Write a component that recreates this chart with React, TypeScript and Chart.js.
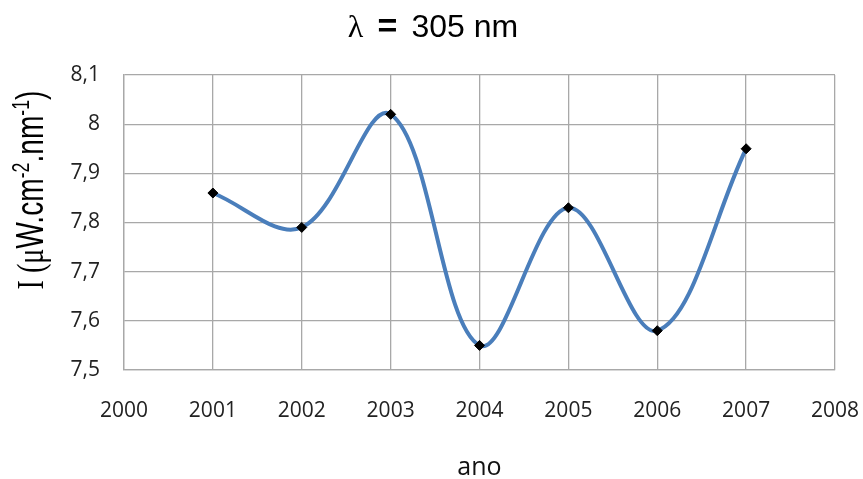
import React, { useEffect, useRef } from "react";
import { Chart, registerables } from "chart.js";

Chart.register(...registerables);

// Annual mean irradiance at 305 nm
const years = [2001, 2002, 2003, 2004, 2005, 2006, 2007];
const intensity = [7.86, 7.79, 8.02, 7.55, 7.83, 7.58, 7.95];

const xMin = 2000;
const xMax = 2008;
const yMin = 7.5;
const yMax = 8.1;
const yStep = 0.1;

const SANS = "'Liberation Sans', Arial, sans-serif";
const SERIF = "'Liberation Serif', 'DejaVu Serif', serif";

type Run = { text: string; family: string; scale?: number; sup?: boolean; bold?: boolean };

const titleRuns: Run[] = [
  { text: "λ", family: SERIF },
  { text: " ", family: SANS, scale: 1.6 },
  { text: "=", family: SANS, bold: true, scale: 1.05 },
  { text: " ", family: SANS, scale: 1.6 },
  { text: "305 nm", family: SANS },
];

const yLabelRuns: Run[] = [
  { text: "I (", family: SERIF },
  { text: "μ", family: SERIF },
  { text: "W.cm", family: SANS },
  { text: "-2", family: SANS, sup: true },
  { text: ".nm", family: SANS },
  { text: "-1", family: SANS, sup: true },
  { text: ")", family: SANS },
];

const xLabel = "ano";

const TICK_FONT = "'Open Sans', sans-serif";
const GRID = "#a8a8a8";

function drawRuns(ctx: CanvasRenderingContext2D, runs: Run[], size: number, cx: number) {
  const fontFor = (r: Run) => {
    const s = r.sup ? size * 0.62 : size * (r.scale || 1);
    return `${r.bold ? "bold " : ""}${Math.round(s)}px ${r.family}`;
  };
  let total = 0;
  const widths = runs.map((r) => {
    ctx.font = fontFor(r);
    const w = ctx.measureText(r.text).width;
    total += w;
    return w;
  });
  let x = cx - total / 2;
  runs.forEach((r, i) => {
    ctx.font = fontFor(r);
    ctx.fillText(r.text, x, r.sup ? -size * 0.38 : 0);
    x += widths[i];
  });
}

const textPlugin = {
  id: "chartTexts",
  afterDraw(chart: Chart) {
    const ctx = chart.ctx;
    const area = chart.chartArea;
    ctx.save();
    ctx.fillStyle = "#000";
    ctx.textBaseline = "alphabetic";
    ctx.textAlign = "left";

    // Title
    ctx.save();
    ctx.translate(0, 37);
    drawRuns(ctx, titleRuns, 32, 433);
    ctx.restore();

    // Y axis title, rotated and narrowed along the reading direction
    ctx.save();
    ctx.translate(43, 190);
    ctx.rotate(-Math.PI / 2);
    ctx.scale(0.74, 1);
    drawRuns(ctx, yLabelRuns, 38, 0);
    ctx.restore();

    // X axis title
    ctx.save();
    ctx.translate(0, 475);
    ctx.fillStyle = "#111";
    drawRuns(ctx, [{ text: xLabel, family: TICK_FONT }], 25, (area.left + area.right) / 2);
    ctx.restore();

    ctx.restore();
  },
};

export default function App() {
  const canvasRef = useRef<HTMLCanvasElement | null>(null);

  useEffect(() => {
    document.body.style.margin = "0";
    const canvas = canvasRef.current;
    if (!canvas) return;

    const chart = new Chart(canvas, {
      type: "line",
      data: {
        datasets: [
          {
            data: years.map((y, i) => ({ x: y, y: intensity[i] })),
            borderColor: "#4a7ebb",
            borderWidth: 4,
            tension: 0.36,
            fill: false,
            pointStyle: "rectRot",
            pointRadius: 5,
            pointBackgroundColor: "#000",
            pointBorderColor: "#000",
            pointBorderWidth: 1,
          },
        ],
      },
      options: {
        animation: false,
        responsive: false,
        events: [],
        layout: { padding: { left: 0, right: 28, top: 75, bottom: 0 } },
        plugins: {
          legend: { display: false },
          title: { display: false },
          tooltip: { enabled: false },
        },
        scales: {
          x: {
            type: "linear",
            min: xMin,
            max: xMax,
            ticks: {
              stepSize: 1,
              padding: 28,
              color: "#222",
              font: { family: TICK_FONT, size: 21 },
              callback: (v: number | string) => String(v),
            },
            grid: { color: GRID, lineWidth: 1.3, drawTicks: false },
            border: { color: GRID, width: 1.3 },
            afterFit: (scale: any) => {
              scale.height = 479 - 370;
              scale.paddingLeft = 0;
              scale.paddingRight = 0;
            },
          },
          y: {
            min: yMin,
            max: yMax,
            ticks: {
              stepSize: yStep,
              padding: 24,
              color: "#222",
              font: { family: TICK_FONT, size: 21 },
              callback: (v: number | string) => {
                const n = Number(v);
                if (Math.abs(n - Math.round(n)) < 1e-9) return String(Math.round(n));
                return n.toFixed(1).replace(".", ",");
              },
            },
            grid: { color: GRID, lineWidth: 1.3, drawTicks: false },
            border: { color: GRID, width: 1.3 },
            afterFit: (scale: any) => {
              scale.width = 124;
              scale.paddingTop = 0;
              scale.paddingBottom = 0;
            },
          },
        },
      },
      plugins: [textPlugin],
    });

    return () => chart.destroy();
  }, []);

  return (
    <div style={{ width: 863, height: 479, background: "#fff" }}>
      <canvas ref={canvasRef} width={863} height={479} />
    </div>
  );
}
